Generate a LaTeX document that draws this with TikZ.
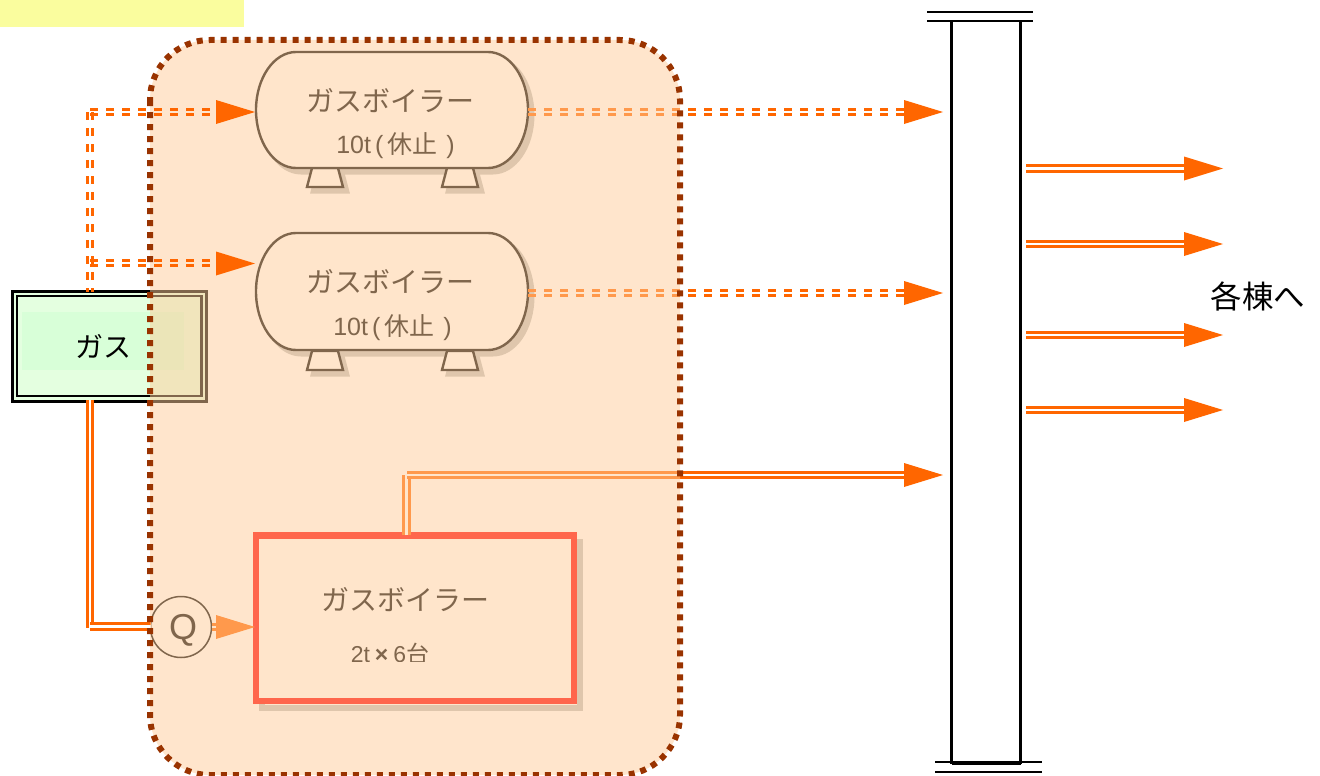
\documentclass[tikz,border=0pt]{standalone}
\usepackage{fontspec}
\setmainfont{Liberation Sans}
\newfontfamily\cjk{Noto Sans CJK JP}
\usetikzlibrary{arrows.meta,positioning,calc}
\definecolor{pipe}{HTML}{FF6600}
\definecolor{panelfill}{HTML}{FFCC99}
\definecolor{paneledge}{HTML}{993300}
\definecolor{shadowc}{HTML}{C0C0C0}
\definecolor{gasfill}{HTML}{E4FFE0}
\definecolor{gascore}{HTML}{D8FFD8}
\definecolor{memo}{HTML}{FAFD9E}
\tikzset{
  x=1pt,y=-1pt,
  txt/.style={inner sep=0pt,outer sep=0pt,text=black},
  anchorbox/.style={inner sep=0pt,outer sep=0pt,minimum width=#1},
  solidpipe/.style={pipe,line width=3pt,double=white,double distance=2.6pt},
  dashpipe/.style={pipe,line width=3pt,dash pattern=on 8pt off 8pt},
  headtip/.style={pipe,line width=.5pt,-{Triangle[length=39pt,width=24pt,line width=0pt]}},
  boilerline/.style={black,line width=2.4pt,fill=white},
  shadowline/.style={shadowc,line width=3pt},
  legline/.style={black,line width=2.4pt,fill=white,line join=miter},
  plate/.style={black,line width=2.8pt},
}
\newcommand{\tankpath}[4]{(#1+40,#2) -- (#3-40,#2) .. controls (#3-18,#2) and (#3,#2+26) .. (#3,{(#2+#4)/2}) .. controls (#3,#4-26) and (#3-18,#4) .. (#3-40,#4) -- (#1+40,#4) .. controls (#1+18,#4) and (#1,#4-26) .. (#1,{(#2+#4)/2}) .. controls (#1,#2+26) and (#1+18,#2) .. (#1+40,#2) -- cycle}
\newcommand{\legpath}[2]{(#1+5,#2) -- (#1+31,#2) -- (#1+36,#2+19) -- (#1,#2+19) -- cycle}
\newcommand{\pairh}[2]{\draw[dashpipe] ([yshift=2.85pt]#1) -- ([yshift=2.85pt]#2); \draw[dashpipe] ([yshift=-2.85pt]#1) -- ([yshift=-2.85pt]#2);}
\newcommand{\pairv}[2]{\draw[dashpipe] ([xshift=-2.4pt]#1) -- ([xshift=-2.4pt]#2); \draw[dashpipe] ([xshift=2.4pt]#1) -- ([xshift=2.4pt]#2);}
\newcommand{\headat}[1]{\draw[headtip] ([xshift=-39pt]#1) -- (#1);}
\newcommand{\capten}{10t\kern4pt(\kern4pt{\cjk 休止}\kern9pt)}
\begin{document}
\begin{tikzpicture}
\useasboundingbox (0,0) rectangle (1320,776);
% yellow memo
\fill[memo] (0,0) rectangle (244,27);

% gas source
\node[inner sep=0pt,outer sep=0pt,minimum width=194.6pt,minimum height=110.4pt,draw=black,line width=3pt,fill=gasfill] (gas) at (109.3,346.5) {};
\node[inner sep=0pt,outer sep=0pt,minimum width=184.5pt,minimum height=99.4pt,draw=black,line width=2.2pt,fill=gasfill] (gasinner) at (109.25,346) {};
\node[inner sep=0pt,minimum width=162pt,minimum height=58pt,fill=gascore] (gascore) at (103,341) {};
\node[txt,font=\cjk\fontsize{28}{28}\selectfont] (gastext) at (103,346) {ガス};

% boiler shadows, boilers
\draw[shadowline,fill=shadowc] \tankpath{261}{57}{533}{173};
\draw[shadowline,fill=shadowc] \legpath{312}{173};
\draw[shadowline,fill=shadowc] \legpath{447}{173};
\draw[legline] \legpath{307}{168};
\draw[legline] \legpath{442}{168};
\draw[boilerline] \tankpath{256}{52}{528}{168};
\draw[shadowline,fill=shadowc] \tankpath{261}{238}{533}{355};
\draw[shadowline,fill=shadowc] \legpath{312}{356};
\draw[shadowline,fill=shadowc] \legpath{447}{356};
\draw[legline] \legpath{307}{351};
\draw[legline] \legpath{442}{351};
\draw[boilerline] \tankpath{256}{233}{528}{350};

\node[anchorbox=272pt,minimum height=116pt] (boilerA) at (392,110) {};
\node[anchorbox=272pt,minimum height=117pt] (boilerB) at (392,291.5) {};
\node[txt,font=\cjk\fontsize{28}{28}\selectfont] (boilerAname) at (390,100.5) {ガスボイラー};
\node[txt,font=\fontsize{25}{25}\selectfont] (boilerAcap) at (395.5,146) {\capten};
\node[txt,font=\cjk\fontsize{28}{28}\selectfont] (boilerBname) at (390,281.5) {ガスボイラー};
\node[txt,font=\fontsize{25}{25}\selectfont] (boilerBcap) at (392.5,328) {\capten};

% boiler 3
\draw[shadowc,line width=6pt] (262,541.5) rectangle (580,707.5);
\node[inner sep=0pt,outer sep=0pt,minimum width=317.7pt,minimum height=165.5pt,draw=red,line width=6.5pt,fill=white] (boilerC) at (415,618.2) {};
\node[txt,font=\cjk\fontsize{28}{28}\selectfont] (boilerCname) at (405,599.5) {ガスボイラー};
\begin{scope}
\clip (340,630) rectangle (440,661.5);
\node[txt,font=\fontsize{23}{23}\selectfont] (boilerCcap) at (390,654) {2t\kern5pt\textbf{×}\kern5pt6{\cjk 台}};
\end{scope}

% Q meter
\node[circle,inner sep=0pt,outer sep=0pt,minimum size=61pt,draw=black,line width=1.5pt,fill=white] (meter) at (181,627) {};
\node[txt,font=\fontsize{36}{36}\selectfont] (meterlabel) at (183,630) {Q};

% gas feed to meter
\coordinate (gasdown) at (89.8,400);
\coordinate (feedcorner) at (89.8,628);
\coordinate (feedstart) at (90,626.5);
\draw[solidpipe] (gasdown) -- (feedcorner);
\draw[solidpipe] (feedstart) -- (feedstart -| meter.west);
\coordinate (boilerCin) at (255,627);
\draw[solidpipe] (meter.east) -- ([xshift=6pt]meter.east);
\headat{boilerCin}

% boiler 3 outlet
\coordinate (outCtop) at (406.5,475);
\coordinate (outCstart) at (407,475);
\coordinate (outCbase) at (905,475);
\coordinate (stackC) at (943,475);
\draw[solidpipe] (boilerC.north -| outCtop) -- (outCtop);
\draw[solidpipe] (outCstart) -- (outCbase);
\headat{stackC}

% boiler 1,2 outlets
\coordinate (outAstart) at (528,112);
\coordinate (outAbase) at (905,112);
\coordinate (stackA) at (943,112);
\coordinate (outBstart) at (528,293);
\coordinate (outBbase) at (905,293);
\coordinate (stackB) at (943,293);
\pairh{outAstart}{outAbase}
\headat{stackA}
\pairh{outBstart}{outBbase}
\headat{stackB}

% translucent panel
\node[inner sep=0pt,outer sep=0pt,minimum width=530pt,minimum height=735pt,rounded corners=60pt,fill=panelfill,fill opacity=.5] (panel) at (415,407.5) {};

% gas feeds to boilers 1,2 (above the panel)
\coordinate (gastop) at (89.8,292);
\coordinate (feedtop) at (89.8,112);
\coordinate (feedA) at (90,112);
\coordinate (feedAend) at (216,112);
\coordinate (feedB) at (90,263);
\coordinate (feedBend) at (216,263);
\coordinate (tankAin) at (255,112);
\coordinate (tankBin) at (255,263.5);
\pairv{feedtop}{gastop}
\pairh{feedA}{feedAend}
\pairh{feedB}{feedBend}
\headat{tankAin}
\headat{tankBin}

% panel outline
\draw[paneledge,line width=6pt,dash pattern=on 6pt off 6pt,rounded corners=60pt] (panel.north west) rectangle (panel.south east);

% stack
\node[inner sep=0pt,outer sep=0pt,minimum width=69pt,minimum height=742pt,draw=black,line width=2.5pt] (stack) at (986,392) {};
\coordinate (topL) at (927,12);
\coordinate (topR) at (1033,12);
\coordinate (top2L) at (927,21);
\coordinate (top2R) at (1033,21);
\coordinate (botL) at (935,762);
\coordinate (botR) at (1042,762);
\coordinate (bot2L) at (935,772);
\coordinate (bot2R) at (1042,772);
\draw[plate] (topL) -- (topR);
\draw[plate] (top2L) -- (top2R);
\draw[plate] (botL) -- (botR);
\draw[plate] (bot2L) -- (bot2R);
\draw[black,line width=4pt] (stack.south west) -- (stack.south east);

% outgoing
\foreach \n/\yy in {a/168.5,b/244,c/335,d/410}{
  \coordinate (o\n s) at (1026,\yy);
  \coordinate (o\n e) at (1186,\yy);
  \coordinate (o\n t) at (1223,\yy);
  \draw[solidpipe] (o\n s) -- (o\n e);
  \headat{o\n t}
}
\node[txt,font=\cjk\fontsize{31.5}{32}\selectfont] (dest) at (1258,296) {各棟へ};
\end{tikzpicture}
\end{document}
